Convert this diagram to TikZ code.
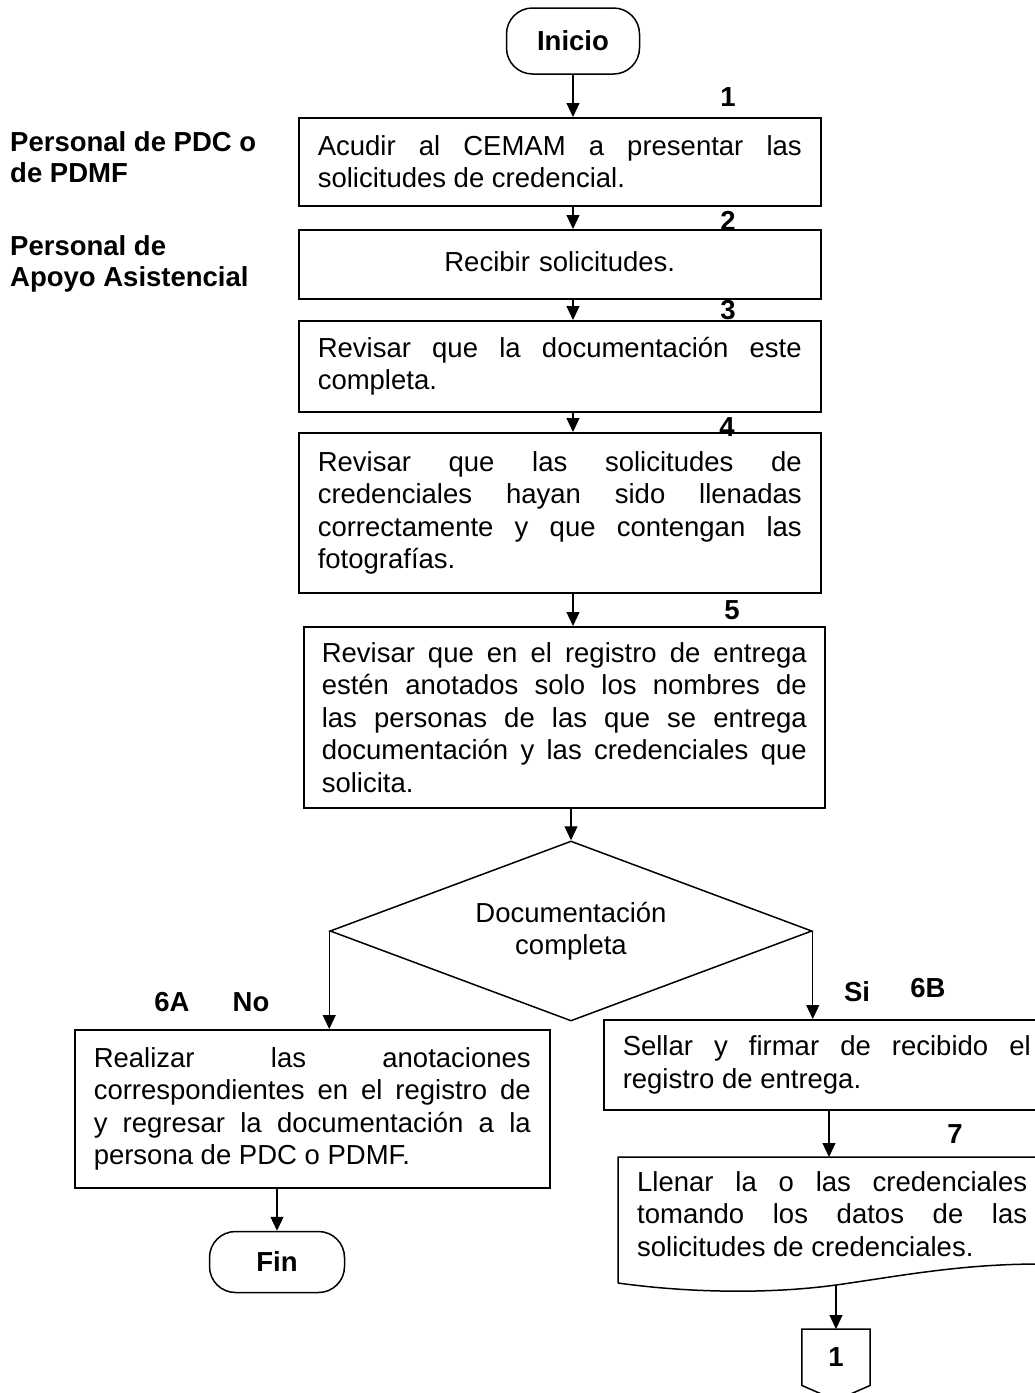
\documentclass[tikz,border=0pt]{standalone}
\usepackage{fontspec}
\setmainfont{Liberation Sans}
\usetikzlibrary{arrows.meta,shapes.geometric,calc}
\tolerance=10000
\hbadness=10000
\hyphenpenalty=10000
\begin{document}
\begin{tikzpicture}[x=1pt,y=-1pt,
  every node/.style={font=\fontsize{27.5}{32.5}\selectfont},
  box/.style={draw, line width=1.5pt, inner xsep=19pt, inner ysep=0pt, align=justify, anchor=north west},
  term/.style={draw, line width=1.5pt, rounded corners=26pt, minimum width=133pt, minimum height=66pt, inner sep=0pt, font=\fontsize{27.5}{32.5}\selectfont\bfseries},
  num/.style={inner sep=0pt, font=\fontsize{27.5}{32.5}\selectfont\bfseries},
  lane/.style={inner sep=0pt, anchor=west, align=left, font=\fontsize{27.5}{31}\selectfont\bfseries},
  arr/.style={-{Triangle[length=14pt,width=13pt]}, line width=1.2pt},
  outl/.style={line width=1.5pt}]
\useasboundingbox (0,0) rectangle (1035,1393);
\clip (0,0) rectangle (1035,1393);

% lane labels
\node[lane] (l1) at (10,157) {Personal de PDC o\\de PDMF};
\node[lane] (l2) at (10,264) {Personal de\\Apoyo Asistencial};

% start
\node[term] (inicio) at (573,41) {Inicio};

% process boxes
\node[box, text width=484pt, minimum height=88pt] (b1) at (298,117)
  {Acudir al CEMAM a presentar las\linebreak solicitudes de credencial.};
\node[box, text width=484pt, minimum height=69pt, align=center] (b2) at (298,229)
  {Recibir solicitudes.\vphantom{p}\\[8pt]};
\node[box, text width=484pt, minimum height=91pt] (b3) at (298,320)
  {Revisar que la documentación este\linebreak completa.};
\node[box, text width=484pt, minimum height=160pt] (b4) at (298,432)
  {Revisar que las solicitudes de\linebreak credenciales hayan sido llenadas\linebreak correctamente y que contengan las\linebreak fotografías.};
\node[box, text width=485pt, inner xsep=18pt, minimum height=181pt] (b5) at (303,626)
  {Revisar que en el registro de entrega\linebreak estén anotados solo los nombres de\linebreak las personas de las que se entrega\linebreak documentación y las credenciales que\linebreak solicita.};

% decision
\node[draw, outl, diamond, aspect=2.68, minimum width=482pt, minimum height=180pt, inner sep=0pt, align=center] (dec) at (571,931)
  {Documentación\\completa};

% branch boxes
\node[box, text width=437pt, minimum height=158pt] (b6a) at (74,1029)
  {Realizar las anotaciones\linebreak correspondientes en el registro de\linebreak y regresar la documentación a la\linebreak persona de PDC o PDMF.};
\node[box, text width=408pt, minimum height=90pt] (b6b) at (603,1019)
  {Sellar y firmar de recibido el\linebreak registro de entrega.};

% end
\node[term, minimum width=135pt, minimum height=61pt] (fin) at (277,1262) {Fin};

% document shape
\node[anchor=north west, inner xsep=19pt, inner ysep=0pt, text width=390pt, align=justify, minimum height=113pt] (doc) at (618,1157)
  {Llenar la o las credenciales\linebreak tomando los datos de las\linebreak solicitudes de credenciales.};
\draw[outl] (618,1283) -- (618,1157) -- (1040,1157) -- (1040,1264)
  .. controls (960,1264) and (900,1276) .. (836,1285)
  .. controls (770,1294) and (690,1293) .. (618,1283);

% off-page connector
\node[num, minimum width=68pt, minimum height=56pt, anchor=north] (con) at (836,1329) {1};
\draw[outl] (con.north west) -- (con.north east) -- (con.south east) -- ($(con.south)+(0,15)$) -- (con.south west) -- cycle;

% step numbers
\node[num] (n1) at (728,97) {1};
\node[num] (n2) at (728,221) {2};
\node[num] (n3) at (728,310) {3};
\node[num] (n4) at (727,427) {4};
\node[num] (n5) at (732,610) {5};
\node[num] (n6a) at (172,1002) {6A};
\node[num] (nno) at (251,1002) {No};
\node[num] (nsi) at (857,992) {Si};
\node[num] (n6b) at (928,988) {6B};
\node[num] (n7) at (955,1134) {7};

% connectors
\coordinate (ax) at (829,0);
\coordinate (dbot) at (836,1285);
\draw[arr] (inicio.south) -- (inicio.south |- b1.north);
\draw[arr] (b1.south -| inicio) -- (b2.north -| inicio);
\draw[arr] (b2.south -| inicio) -- (b3.north -| inicio);
\draw[arr] (b3.south -| inicio) -- (b4.north -| inicio);
\draw[arr] (b4.south -| inicio) -- (b5.north -| inicio);
\draw[arr] (b5.south -| dec.north) -- (dec.north);
\draw[arr] (dec.west) -- (dec.west |- b6a.north);
\draw[arr] (dec.east) -- (dec.east |- b6b.north);
\draw[arr] (b6a.south -| fin) -- (fin.north);
\draw[arr] (b6b.south -| ax) -- (doc.north -| ax);
\draw[arr] (dbot) -- (con.north);
\end{tikzpicture}
\end{document}
